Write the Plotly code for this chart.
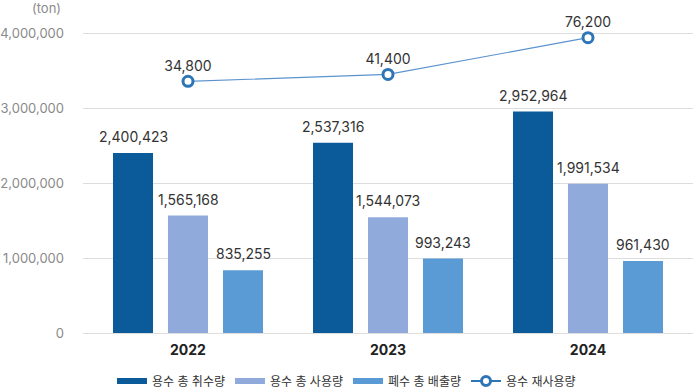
import plotly.graph_objects as go

years = ["2022", "2023", "2024"]
intake = [2400423, 2537316, 2952964]
usage = [1565168, 1544073, 1991534]
discharge = [835255, 993243, 961430]
reuse = [34800, 41400, 76200]

names = ["용수 총 취수량", "용수 총 사용량", "폐수 총 배출량", "용수 재사용량"]
colors = ["#0B5A9A", "#90AADC", "#5B9BD5"]
line_color = "#5B93CE"
marker_color = "#2E75B6"

FONT = "Inter, 'Noto Sans CJK KR', sans-serif"

fig = go.Figure()
offsets = [-0.375, -0.1, 0.175]
bar_w = 0.2
for vals, c, off in zip([intake, usage, discharge], colors, offsets):
    fig.add_trace(go.Bar(
        x=years, y=vals, width=bar_w, offset=off,
        marker=dict(color=c, line=dict(width=0)),
        showlegend=False, hoverinfo="skip",
    ))
    for i, v in enumerate(vals):
        fig.add_annotation(x=i + off + bar_w / 2, y=v, text=f"{v:,}", showarrow=False,
                           yshift=6, yanchor="bottom", xanchor="center",
                           font=dict(size=14, color="#333333", family=FONT))

fig.add_trace(go.Scatter(
    x=years, y=reuse, yaxis="y2", mode="lines+markers+text",
    line=dict(color=line_color, width=1.2),
    marker=dict(size=10, color="white", line=dict(color=marker_color, width=3)),
    text=[f"{v:,}" for v in reuse], textposition="top center",
    textfont=dict(size=14, color="#333333", family=FONT),
    cliponaxis=False, showlegend=False,
))

# legend proxies
for n, c in zip(names[:3], colors):
    fig.add_trace(go.Scatter(x=[None], y=[None], mode="lines", name=n,
                             line=dict(color=c, width=6)))
fig.add_trace(go.Scatter(x=[None], y=[None], mode="lines+markers", name=names[3],
                         line=dict(color=marker_color, width=2),
                         marker=dict(size=9, color="white", line=dict(color=marker_color, width=3))))

fig.update_layout(
    width=693, height=388,
    margin=dict(l=83, r=0, t=3, b=55, autoexpand=False),
    paper_bgcolor="white", plot_bgcolor="white",
    barmode="overlay",
    font=dict(family=FONT, size=14, color="#333333"),
    xaxis=dict(type="category", range=[-0.525, 2.525], showgrid=False,
               showline=False, zeroline=False, ticks="", automargin=False,
               tickfont=dict(size=14, color="#222222", family=FONT, weight="bold"),
               ticklabelstandoff=7),
    yaxis=dict(range=[0, 4400000], tickvals=[0, 1000000, 2000000, 3000000, 4000000],
               tickformat=",", showgrid=True, gridcolor="#DDDDDD", gridwidth=1,
               zeroline=True, zerolinecolor="#DDDDDD", zerolinewidth=1,
               showline=False, ticks="", automargin=False,
               tickfont=dict(size=13, color="#8A8A8A", family=FONT),
               ticklabelstandoff=18),
    yaxis2=dict(overlaying="y", side="right", range=[-203840, 109100],
                visible=False, showgrid=False, automargin=False),
    legend=dict(orientation="h", xref="container", x=0.5, xanchor="center",
                yref="container", y=0.018, yanchor="middle",
                font=dict(size=12, color="#333333", family=FONT),
                itemwidth=30, tracegroupgap=0),
    showlegend=True,
)
fig.add_annotation(text="(ton)", xref="paper", yref="paper", x=0, y=1,
                   xanchor="right", yanchor="middle", xshift=-20, yshift=-5,
                   showarrow=False, font=dict(size=13, color="#8A8A8A", family=FONT))

fig.write_html("out.html", config={"displayModeBar": False},
               post_script="document.body.style.margin='0';document.body.style.overflow='hidden';")
